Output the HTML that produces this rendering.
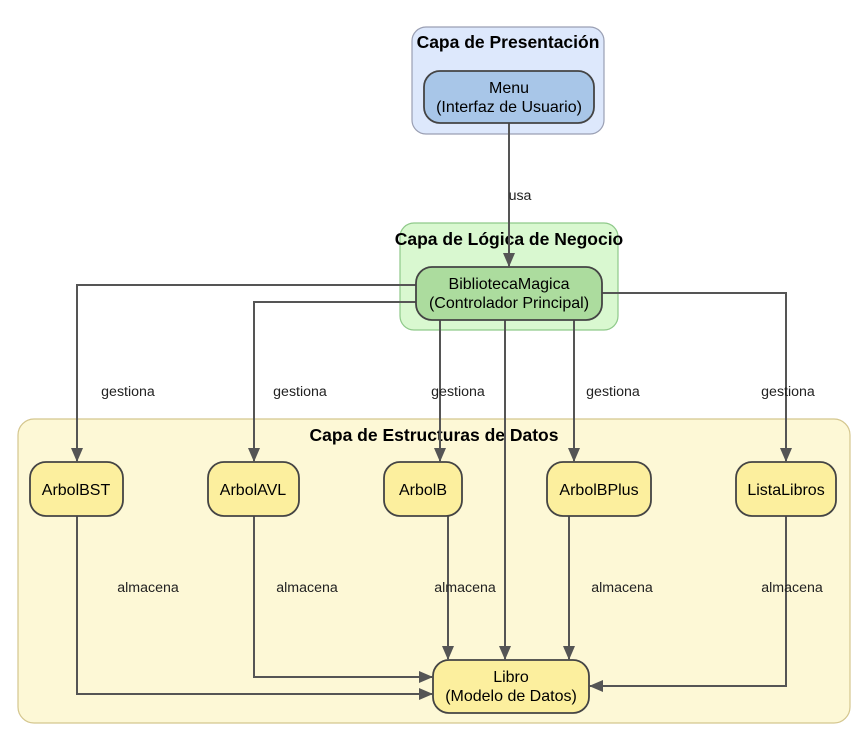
<!DOCTYPE html>
<html><head><meta charset="utf-8"><style>
html,body{margin:0;padding:0;background:#fff;}
svg{display:block;font-family:"Liberation Sans",Arial,sans-serif;}
</style></head><body>
<svg width="868" height="746" viewBox="0 0 868 746" xmlns="http://www.w3.org/2000/svg">
<defs>
<marker id="a" markerWidth="14" markerHeight="12" refX="13" refY="6" orient="auto" markerUnits="userSpaceOnUse">
<path d="M0,0 L14,6 L0,12 Z" fill="#555"/>
</marker>
</defs>
<rect x="412" y="27" width="192" height="107" rx="14" fill="#dde8fc" stroke="#9a9fb3" stroke-width="1.2"/>
<rect x="400" y="223" width="218" height="107" rx="14" fill="#d9f8d0" stroke="#8fc98a" stroke-width="1.2"/>
<rect x="18" y="419" width="832" height="304" rx="16" fill="#fdf8d6" stroke="#d4c68e" stroke-width="1.2"/>
<g font-weight="bold" font-size="17.5" text-anchor="middle" fill="#000">
<text x="508" y="48">Capa de Presentación</text>
<text x="509" y="245">Capa de Lógica de Negocio</text>
<text x="434" y="441">Capa de Estructuras de Datos</text>
</g>
<g stroke="#555" stroke-width="2" fill="none">
<path d="M509 123 V266" marker-end="url(#a)"/>
<path d="M416 285 H77 V461" marker-end="url(#a)"/>
<path d="M416 302 H254 V461" marker-end="url(#a)"/>
<path d="M440 320 V461" marker-end="url(#a)"/>
<path d="M574 320 V461" marker-end="url(#a)"/>
<path d="M602 293 H786 V461" marker-end="url(#a)"/>
<path d="M505 320 V659" marker-end="url(#a)"/>
<path d="M77 516 V694 H432" marker-end="url(#a)"/>
<path d="M254 516 V677 H432" marker-end="url(#a)"/>
<path d="M448 516 V659" marker-end="url(#a)"/>
<path d="M569 516 V659" marker-end="url(#a)"/>
<path d="M786 516 V686 H590" marker-end="url(#a)"/>
</g>
<g stroke="#444" stroke-width="1.8">
<rect x="424" y="71" width="170" height="52" rx="16" fill="#a8c6e8"/>
<rect x="416" y="267" width="186" height="53" rx="16" fill="#acdc9e"/>
<rect x="30" y="462" width="93" height="54" rx="16" fill="#fcef9e"/>
<rect x="208" y="462" width="91" height="54" rx="16" fill="#fcef9e"/>
<rect x="384" y="462" width="78" height="54" rx="16" fill="#fcef9e"/>
<rect x="547" y="462" width="104" height="54" rx="16" fill="#fcef9e"/>
<rect x="736" y="462" width="100" height="54" rx="16" fill="#fcef9e"/>
<rect x="433" y="660" width="156" height="53" rx="16" fill="#fcef9e"/>
</g>
<g font-size="16" text-anchor="middle" fill="#000">
<text x="509" y="93">Menu</text>
<text x="509" y="112">(Interfaz de Usuario)</text>
<text x="509" y="289">BibliotecaMagica</text>
<text x="509" y="308">(Controlador Principal)</text>
<text x="76" y="495">ArbolBST</text>
<text x="253" y="495">ArbolAVL</text>
<text x="423" y="495">ArbolB</text>
<text x="599" y="495">ArbolBPlus</text>
<text x="786" y="495">ListaLibros</text>
<text x="511" y="682">Libro</text>
<text x="511" y="701">(Modelo de Datos)</text>
</g>
<g font-size="14.2" text-anchor="middle" fill="#222">
<text x="520" y="200">usa</text>
<text x="128" y="396">gestiona</text>
<text x="300" y="396">gestiona</text>
<text x="458" y="396">gestiona</text>
<text x="613" y="396">gestiona</text>
<text x="788" y="396">gestiona</text>
<text x="148" y="592">almacena</text>
<text x="307" y="592">almacena</text>
<text x="465" y="592">almacena</text>
<text x="622" y="592">almacena</text>
<text x="792" y="592">almacena</text>
</g>
</svg>
</body></html>
